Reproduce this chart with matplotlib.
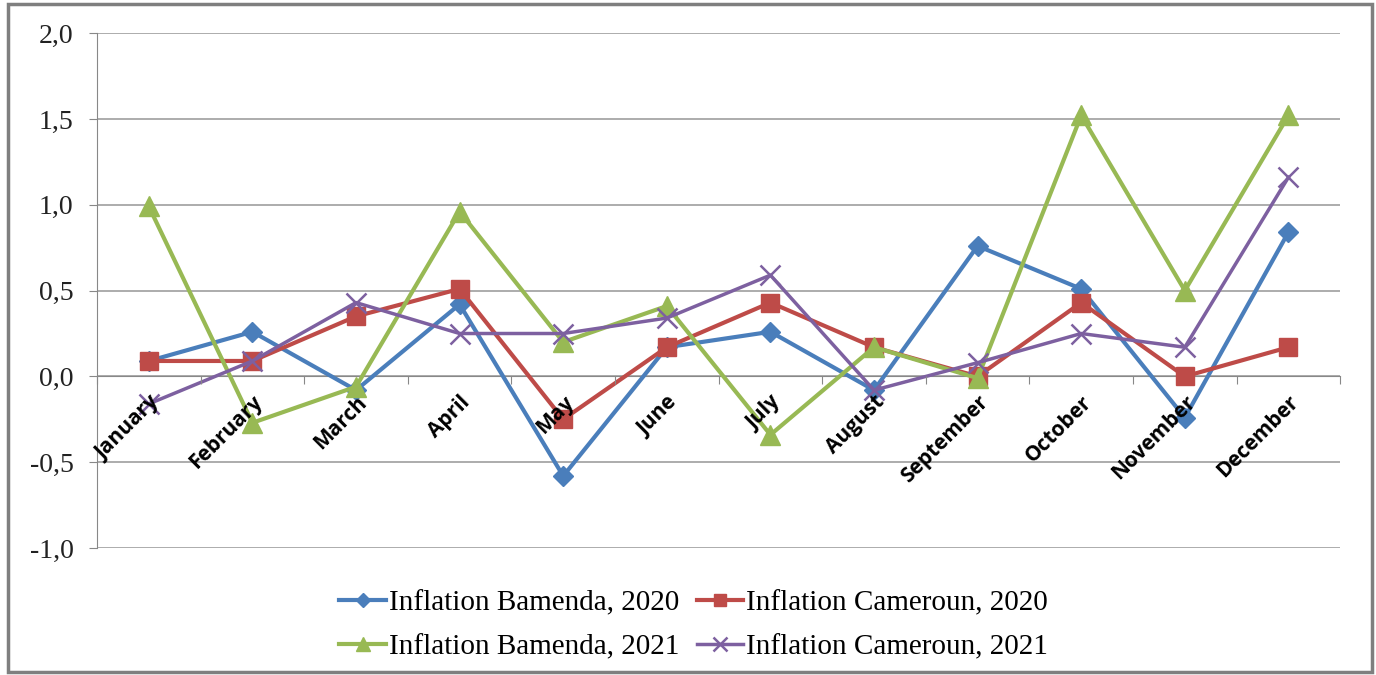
import matplotlib
matplotlib.use("Agg")
import matplotlib.pyplot as plt
from matplotlib.patches import Rectangle
from matplotlib.ticker import FixedLocator, FuncFormatter

# Data
months = ["January", "February", "March", "April", "May", "June",
          "July", "August", "September", "October", "November", "December"]
bamenda_2020 = [0.09, 0.26, -0.08, 0.42, -0.58, 0.17, 0.26, -0.08, 0.76, 0.51, -0.24, 0.84]
cameroun_2020 = [0.09, 0.09, 0.35, 0.51, -0.25, 0.17, 0.43, 0.17, 0.00, 0.43, 0.00, 0.17]
bamenda_2021 = [0.99, -0.27, -0.06, 0.96, 0.20, 0.41, -0.34, 0.17, -0.01, 1.52, 0.50, 1.52]
cameroun_2021 = [-0.16, 0.09, 0.43, 0.25, 0.25, 0.34, 0.59, -0.08, 0.08, 0.25, 0.17, 1.16]

fig = plt.figure(figsize=(13.76, 6.75), dpi=100)
ax = fig.add_axes([0.0705, 0.188, 0.9035, 0.763])

x = list(range(len(months)))
l1, = ax.plot(x, bamenda_2020, color="#4A7EBB", lw=3, marker="D", ms=10,
              label="Inflation Bamenda, 2020", zorder=3)
l2, = ax.plot(x, cameroun_2020, color="#BE4B48", lw=3, marker="s", ms=13,
              label="Inflation Cameroun, 2020", zorder=3)
l3, = ax.plot(x, bamenda_2021, color="#98B954", lw=3, marker="^", ms=15,
              label="Inflation Bamenda, 2021", zorder=3)
l4, = ax.plot(x, cameroun_2021, color="#7D60A0", lw=2.5, marker="x", ms=15, mew=1.8,
              label="Inflation Cameroun, 2021", zorder=3)

ax.set_xlim(-0.5, 11.5)
ax.set_ylim(-1.0, 2.0)

# gridlines
ax.set_yticks([-1.0, -0.5, 0.0, 0.5, 1.0, 1.5, 2.0])
ax.yaxis.set_major_formatter(FuncFormatter(lambda v, p: f"{v:.1f}".replace(".", ",")))
ax.grid(axis="y", color="#A6A6A6", lw=1.3)
ax.set_axisbelow(True)
for lbl in ax.get_yticklabels():
    lbl.set_fontfamily("Liberation Serif")
    lbl.set_fontsize(20)
ax.tick_params(axis="y", length=6, color="#888888", pad=11, labelcolor="#222222")

# x axis crosses at zero, month labels drawn over the lines
ax.spines["bottom"].set_position(("data", 0))
ax.spines["bottom"].set_color("#888888")
ax.spines["bottom"].set_zorder(2)
ax.spines["left"].set_color("#888888")
ax.spines["top"].set_visible(False)
ax.spines["right"].set_visible(False)
ax.xaxis.set_zorder(5)
ax.xaxis.set_major_locator(FixedLocator([i - 0.5 for i in range(13)]))
ax.xaxis.set_major_formatter(FuncFormatter(lambda v, p: ""))
ax.set_xticks(x, months, minor=True)
ax.tick_params(axis="x", which="major", length=6, direction="out", color="#888888")
ax.tick_params(axis="x", which="minor", length=0, pad=11)
for lbl in ax.get_xticklabels(minor=True):
    lbl.set_rotation(45)
    lbl.set_ha("right")
    lbl.set_va("top")
    lbl.set_rotation_mode("anchor")
    lbl.set_fontfamily("Open Sans")
    lbl.set_fontweight("bold")
    lbl.set_fontsize(15)

# legend rows: 2020 pair, then 2021 pair
leg = ax.legend([l1, l3, l2, l4], [l.get_label() for l in (l1, l3, l2, l4)],
                loc="upper center", bbox_to_anchor=(0.48, -0.03), ncol=2,
                frameon=False, prop={"family": "Liberation Serif", "size": 21},
                handlelength=1.6, handletextpad=0.1, columnspacing=0.6,
                labelspacing=0.6, markerscale=0.7)

# outer frame
fig.patches.append(Rectangle((0.006, 0.004), 0.991, 0.99, transform=fig.transFigure,
                             fill=False, edgecolor="#7F7F7F", lw=2.5))

fig.savefig("out.png", dpi=100)
